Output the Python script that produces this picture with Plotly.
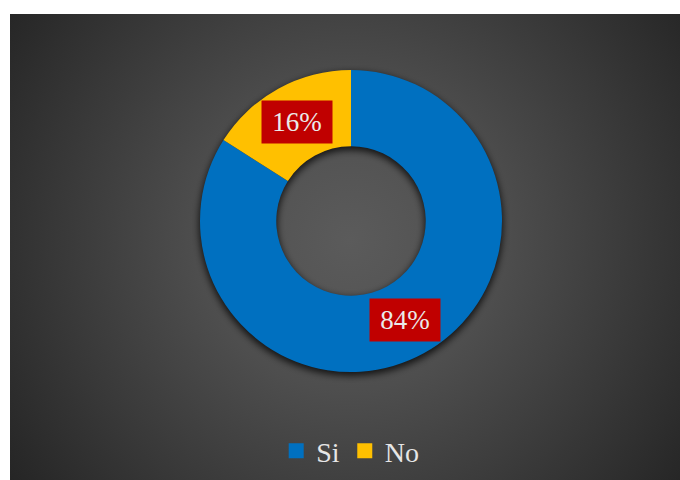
import base64
import math
import plotly.graph_objects as go

# Survey answers and their shares (percent)
labels = ["Si", "No"]
values = [84, 16]
colors = ["#0070C0", "#FFC000"]

W, H = 680, 480
CX, CY = 351, 221          # donut centre, pixels from top-left
R_OUT, HOLE = 151, 0.495   # outer radius (px) and hole fraction
R_MID = R_OUT * (1 + HOLE) / 2

# Dark panel with radial gradient plus a soft drop shadow under the ring
svg = f"""<svg xmlns='http://www.w3.org/2000/svg' width='{W}' height='{H}' viewBox='0 0 {W} {H}'>
<defs>
<radialGradient id='g' gradientUnits='userSpaceOnUse' cx='350' cy='240' r='430'>
<stop offset='0' stop-color='#5b5b5b'/>
<stop offset='0.35' stop-color='#4e4e4e'/>
<stop offset='1' stop-color='#232323'/>
</radialGradient>
<filter id='b' x='-20%' y='-20%' width='140%' height='140%'>
<feGaussianBlur stdDeviation='3.5'/>
</filter>
</defs>
<rect x='10' y='14' width='{W-10}' height='{H-14}' fill='url(#g)'/>
<circle cx='{CX}' cy='{CY+3}' r='{R_MID:.1f}' fill='none' stroke='#000' stroke-opacity='0.75'
 stroke-width='{R_OUT*(1-HOLE)+2:.1f}' filter='url(#b)'/>
</svg>"""
bg_uri = "data:image/svg+xml;base64," + base64.b64encode(svg.encode()).decode()

dom_x = [(CX - R_OUT) / W, (CX + R_OUT) / W]
dom_y = [(H - CY - R_OUT) / H, (H - CY + R_OUT) / H]

fig = go.Figure()
fig.add_trace(go.Pie(
    labels=labels, values=values, hole=HOLE, sort=False,
    direction="clockwise", rotation=0,
    marker=dict(colors=colors, line=dict(width=0)),
    textinfo="none", hoverinfo="label+percent", showlegend=False,
    domain=dict(x=dom_x, y=dom_y),
))

# Legend entries with square swatches
for lab, col in zip(labels, colors):
    fig.add_trace(go.Scatter(
        x=[None], y=[None], mode="markers", name=lab,
        marker=dict(symbol="square", size=15, color=col),
    ))

# Percentage labels in red boxes at the middle of each slice
total = sum(values)
annotations = []
start = 0.0
for v in values:
    mid = (start + v / 2) / total * 2 * math.pi
    px = CX + R_MID * math.sin(mid)
    py = CY - R_MID * math.cos(mid)
    annotations.append(dict(
        x=px / W, y=1 - py / H, xref="paper", yref="paper",
        text=f"{round(v / total * 100)}%", showarrow=False,
        font=dict(family="Liberation Serif", size=27, color="#EAEAEA"),
        bgcolor="#C00000", width=70, height=42, borderpad=0,
        xanchor="center", yanchor="middle",
    ))
    start += v

fig.update_layout(
    width=W, height=H,
    margin=dict(l=0, r=0, t=0, b=0),
    paper_bgcolor="#FFFFFF", plot_bgcolor="rgba(0,0,0,0)",
    xaxis=dict(visible=False), yaxis=dict(visible=False),
    images=[dict(source=bg_uri, xref="paper", yref="paper", x=0, y=1,
                 sizex=1, sizey=1, sizing="stretch", layer="below",
                 xanchor="left", yanchor="top")],
    annotations=annotations,
    showlegend=True,
    legend=dict(orientation="h", x=0.515, y=1 - 451 / H,
                xanchor="center", yanchor="middle",
                font=dict(family="Liberation Serif", size=28, color="#E6E6E6"),
                bgcolor="rgba(0,0,0,0)", itemwidth=30, tracegroupgap=0),
)

fig.write_html("out.html")
